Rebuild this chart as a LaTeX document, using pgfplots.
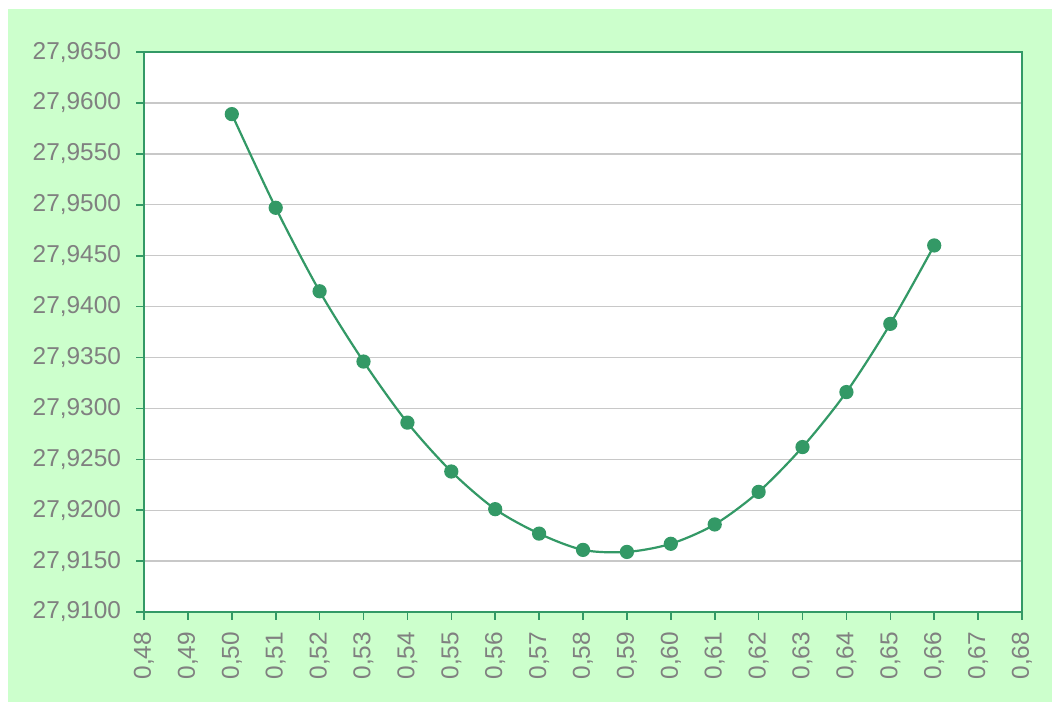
\documentclass[border=0pt]{standalone}
\usepackage{fontspec}
\setmainfont{Liberation Sans}
\usepackage{pgfplots}
\pgfplotsset{compat=1.18}
\definecolor{bggreen}{HTML}{CCFFCC}
\definecolor{seagreen}{HTML}{339966}
\definecolor{txtgray}{HTML}{808080}
\definecolor{gridgray}{HTML}{C8C8C8}
\begin{document}
\begin{tikzpicture}
\path[use as bounding box] (0,0) rectangle (526pt,351pt);
\fill[white] (0,0) rectangle (526pt,351pt);
\fill[bggreen] (4pt,0) rectangle (526pt,346.5pt);
\begin{axis}[
  at={(72pt,45pt)}, anchor=south west,
  scale only axis, width=439pt, height=280pt,
  xmin=0.48, xmax=0.68, ymin=27.91, ymax=27.965,
  xtick={0.48,0.49,...,0.685},
  ytick={27.91,27.915,...,27.966},
  axis background/.style={fill=white},
  axis line style={seagreen, line width=1pt},
  tick style={seagreen, line width=0.8pt},
  tick align=outside, major tick length=4pt,
  xtick pos=bottom, ytick pos=left,
  ymajorgrids, grid style={gridgray, line width=0.6pt},
  /pgf/number format/assume math mode=true,
  ticklabel style={font=\fontsize{12.2}{14}\selectfont, text=txtgray},
  xticklabel style={rotate=90, anchor=east, xshift=-2.5pt, /pgf/number format/.cd, fixed, fixed zerofill, precision=2, use comma},
  yticklabel style={xshift=-4pt, /pgf/number format/.cd, fixed, fixed zerofill, precision=4, use comma, 1000 sep={}},
  scaled y ticks=false, scaled x ticks=false,
  clip=false,
]
\addplot[seagreen, line width=1.1pt, smooth, tension=0.5, mark=*, mark size=3pt, mark options={fill=seagreen, draw=seagreen}]
coordinates {
(0.50,27.9589)
(0.51,27.9497)
(0.52,27.9415)
(0.53,27.9346)
(0.54,27.9286)
(0.55,27.9238)
(0.56,27.9201)
(0.57,27.9177)
(0.58,27.9161)
(0.59,27.9159)
(0.60,27.9167)
(0.61,27.9186)
(0.62,27.9218)
(0.63,27.9262)
(0.64,27.9316)
(0.65,27.9383)
(0.66,27.9460)
};
\end{axis}
\end{tikzpicture}
\end{document}
